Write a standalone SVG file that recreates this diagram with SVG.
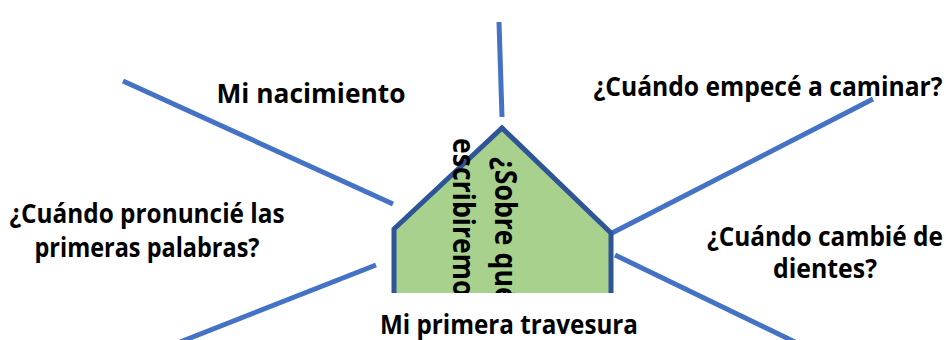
<svg xmlns="http://www.w3.org/2000/svg" width="946" height="340" viewBox="0 0 946 340">
<style>
.lbl{font-family:"Open Sans","Liberation Sans",sans-serif;font-weight:700;font-size:26px;fill:#000;text-anchor:middle}
.vt{font-family:"Open Sans","Liberation Sans",sans-serif;font-weight:700;font-size:31px;fill:#000}
.con{stroke:#4472C4;stroke-width:5;fill:none}
</style>
<defs>
<clipPath id="cut"><rect x="0" y="0" width="946" height="293"/></clipPath>
</defs>
<rect width="946" height="340" fill="#fff"/>
<g id="connectors">
<line class="con" x1="499" y1="22" x2="502" y2="117"/>
<line class="con" x1="123" y1="81" x2="393" y2="204"/>
<line class="con" x1="376" y1="265" x2="180" y2="342"/>
<line class="con" x1="612" y1="233" x2="873" y2="99"/>
<line class="con" x1="615" y1="255" x2="795" y2="342"/>
</g>
<g id="center" clip-path="url(#cut)">
<path d="M394,300 L394,229 L502,128 L611,233 L611,300 Z" fill="#A9D18E" stroke="#2F5597" stroke-width="5" stroke-linejoin="miter"/>
<text class="vt" transform="translate(495,157) rotate(90) scale(0.86,1)">¿Sobre qué</text>
<text class="vt" transform="translate(453,138) rotate(90) scale(0.86,1)">escribiremos?</text>
</g>
<g id="n1"><text class="lbl" x="311" y="103" textLength="189" lengthAdjust="spacingAndGlyphs">Mi nacimiento</text></g>
<g id="n2"><text class="lbl" x="768" y="96" textLength="349" lengthAdjust="spacingAndGlyphs">¿Cuándo empecé a caminar?</text></g>
<g id="n3"><text class="lbl" x="147" y="223" textLength="275" lengthAdjust="spacingAndGlyphs">¿Cuándo pronuncié las</text><text class="lbl" x="147" y="257" textLength="225" lengthAdjust="spacingAndGlyphs">primeras palabras?</text></g>
<g id="n4"><text class="lbl" x="825" y="246" textLength="236" lengthAdjust="spacingAndGlyphs">¿Cuándo cambié de</text><text class="lbl" x="825" y="278" textLength="104" lengthAdjust="spacingAndGlyphs">dientes?</text></g>
<g id="n5"><text class="lbl" x="509" y="334" textLength="258" lengthAdjust="spacingAndGlyphs">Mi primera travesura</text></g>
</svg>
